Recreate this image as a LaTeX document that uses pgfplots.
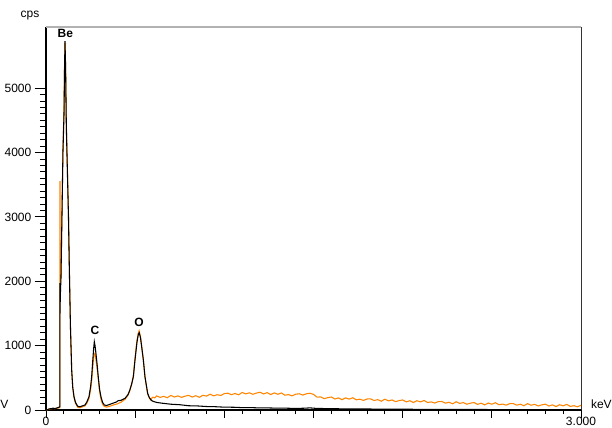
\documentclass[border=0pt]{standalone}
\usepackage{fontspec}
\setmainfont{Liberation Sans}
\usepackage{pgfplots}
\pgfplotsset{compat=1.18}
\definecolor{spec}{RGB}{255,132,0}
\begin{document}
\begin{tikzpicture}
\begin{axis}[
  scale only axis,
  width=401.25pt, height=287.25pt,
  xmin=0, xmax=3, ymin=0, ymax=5950,
  clip=false,
  axis x line*=bottom, axis y line*=left,
  x axis line style={black, line width=1pt},
  y axis line style={black, line width=1.5pt},
  tick align=outside,
  xtick={0,0.5,1,1.5,2,2.5,3},
  xticklabels={0,,,,,,3.000},
  minor x tick num=4,
  ytick={0,1000,2000,3000,4000,5000},
  minor y tick num=9,
  major tick length=8.5pt,
  minor tick length=4.5pt,
  xtick style={/pgfplots/major tick length=6pt,/pgfplots/minor tick length=3pt},
  tick style={black, line width=0.6pt},
  minor tick style={black, line width=0.6pt},
  every tick label/.append style={font=\fontsize{9}{10}\selectfont},
  /pgf/number format/assume math mode=true,
  scaled y ticks=false,
  yticklabel style={/pgf/number format/1000 sep={}, xshift=1pt},
  xticklabel style={yshift=6.5pt},
]
\coordinate (bl) at (rel axis cs:0,0);
\coordinate (tr) at (rel axis cs:1,1);
\draw[gray!60, line width=0.8pt] (rel axis cs:0,1) -- (rel axis cs:1,1);
\draw[black!80, line width=0.6pt] (rel axis cs:1,1) -- (rel axis cs:1,0);
% orange spectrum
\addplot[spec, line width=0.8pt] coordinates {
(0.000,0) (0.010,5) (0.020,15) (0.030,20) (0.040,25) (0.050,20) (0.060,28) (0.070,30) (0.0775,40)
(0.0785,3556) (0.0792,1900) (0.084,2100) (0.090,3150) (0.095,4050) (0.101,4700) (0.104,5350) (0.1066,5700)
(0.110,5350) (0.114,4450) (0.120,3750) (0.126,3050) (0.131,2200) (0.137,1320) (0.144,630) (0.150,350)
(0.157,200) (0.165,110) (0.175,55) (0.180,40) (0.190,35) (0.200,45) (0.219,65) (0.230,110) (0.241,180)
(0.250,310) (0.256,450) (0.262,650) (0.267,820) (0.271,870) (0.274,880) (0.278,820) (0.285,680)
(0.293,490) (0.300,300) (0.308,170) (0.317,90) (0.327,55) (0.340,45) (0.360,60) (0.380,80) (0.400,95)
(0.420,120) (0.443,165) (0.460,230) (0.470,300) (0.480,400) (0.490,540) (0.499,800) (0.510,1080)
(0.518,1200) (0.522,1231) (0.530,1140) (0.538,960) (0.546,770) (0.555,510) (0.570,250) (0.580,185)
(0.589,150) (0.592,181) (0.600,200) (0.610,188)
(0.62,219) (0.64,196) (0.66,212) (0.68,191) (0.70,226) (0.72,202) (0.74,219) (0.76,196) (0.78,215)
(0.80,228) (0.82,201) (0.84,222) (0.86,197) (0.88,229) (0.90,216) (0.92,245) (0.94,220) (0.96,237)
(0.98,226) (1.00,255) (1.02,261) (1.04,238) (1.06,256) (1.08,236) (1.10,272) (1.12,250) (1.14,267)
(1.16,244) (1.18,263) (1.20,276) (1.22,249) (1.24,270) (1.26,240) (1.28,266) (1.30,244) (1.32,264)
(1.34,230) (1.36,239) (1.38,220) (1.40,245) (1.42,252) (1.44,232) (1.46,252) (1.48,260) (1.50,243)
(1.52,199) (1.54,204) (1.56,176) (1.58,192) (1.60,202) (1.62,171) (1.64,188) (1.66,160) (1.68,188)
(1.70,169) (1.72,190) (1.74,158) (1.76,168) (1.78,149) (1.80,171) (1.82,173) (1.84,147) (1.86,161)
(1.88,136) (1.90,168) (1.92,142) (1.94,156) (1.96,130) (1.98,146) (2.00,156) (2.02,126) (2.04,144)
(2.06,116) (2.08,144) (2.10,126) (2.12,148) (2.14,116) (2.16,126) (2.18,108) (2.20,130) (2.22,132)
(2.24,106) (2.26,120) (2.28,96) (2.30,128) (2.32,102) (2.34,116) (2.36,90) (2.38,106) (2.40,116)
(2.42,87) (2.44,106) (2.46,79) (2.48,108) (2.50,90) (2.52,113) (2.54,82) (2.56,92) (2.58,75) (2.60,98)
(2.62,100) (2.64,75) (2.66,90) (2.68,66) (2.70,99) (2.72,74) (2.74,88) (2.76,63) (2.78,80) (2.80,91)
(2.82,62) (2.84,80) (2.86,53) (2.88,82) (2.90,65) (2.92,87) (2.94,56) (2.96,67) (2.98,50) (3.00,73)
};
% black spectrum
\addplot[black, line width=0.8pt] coordinates {
(0.000,0) (0.010,8) (0.020,18) (0.030,22) (0.040,28) (0.050,22) (0.060,30) (0.070,40) (0.0775,50)
(0.0780,1450) (0.0785,1970) (0.0790,1500) (0.080,1750) (0.084,2050) (0.090,3100) (0.095,4000)
(0.101,4600) (0.104,5300) (0.1066,5730) (0.110,5300) (0.114,4400) (0.120,3700) (0.126,3000)
(0.131,2170) (0.137,1300) (0.144,620) (0.150,350) (0.157,207) (0.165,120) (0.175,70) (0.180,55)
(0.190,50) (0.200,60) (0.219,78) (0.230,130) (0.241,207) (0.250,360) (0.256,517) (0.262,760)
(0.267,950) (0.271,1061) (0.275,1000) (0.280,880) (0.287,700) (0.293,517) (0.300,330) (0.308,207)
(0.317,120) (0.327,78) (0.340,70) (0.360,90) (0.380,110) (0.395,125) (0.405,145) (0.420,150)
(0.443,181) (0.460,240) (0.470,310) (0.480,400) (0.490,517) (0.499,776) (0.510,1050) (0.518,1180)
(0.523,1200) (0.530,1120) (0.538,950) (0.546,776) (0.555,517) (0.570,259) (0.580,190) (0.589,155)
(0.600,135) (0.620,118) (0.65,106) (0.70,90) (0.75,82) (0.80,66) (0.85,63) (0.90,54) (0.95,51)
(1.00,44) (1.05,43) (1.10,37) (1.15,37) (1.20,32) (1.25,32) (1.30,28) (1.35,28) (1.40,24) (1.45,28)
(1.48,33) (1.52,24) (1.60,21) (1.70,16) (1.80,16) (1.90,12) (2.00,12) (2.20,9) (2.40,8) (2.60,6)
(2.80,5) (3.00,4)
};
\node[font=\fontsize{9}{10}\selectfont\bfseries] at (axis cs:0.108,5854) {Be};
\node[font=\fontsize{9}{10}\selectfont\bfseries] at (axis cs:0.275,1242) {C};
\node[font=\fontsize{9}{10}\selectfont\bfseries] at (axis cs:0.522,1366) {O};
\node[font=\fontsize{9}{10}\selectfont] at (axis cs:-0.09,6133) {cps};
\node[font=\fontsize{9}{10}\selectfont, anchor=west] at (axis cs:3.03,93) {keV};
\end{axis}
\pgfresetboundingbox
\path[use as bounding box] ([shift={(-34.5pt,-12.75pt)}]bl) rectangle ([shift={(23.25pt,20.25pt)}]tr);
\node[font=\fontsize{9}{10}\selectfont, anchor=west, inner sep=0pt] at ([shift={(-34.5pt,4.5pt)}]bl) {V};
\end{tikzpicture}
\end{document}
